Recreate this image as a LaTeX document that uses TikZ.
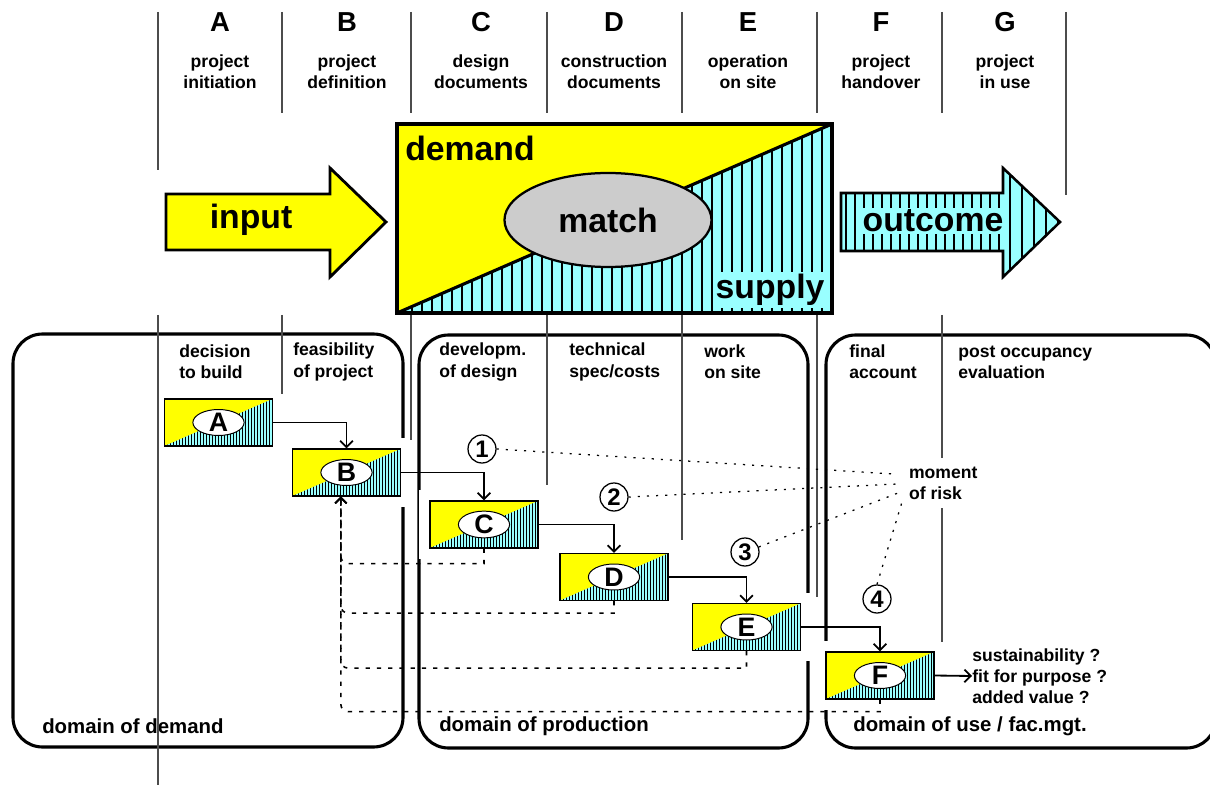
\documentclass[tikz,border=0pt]{standalone}
\usepackage{fontspec}
\setmainfont{Liberation Sans}
\usetikzlibrary{shapes.geometric,arrows.meta}

\definecolor{ylw}{RGB}{255,255,0}
\definecolor{cyn}{RGB}{153,255,255}
\definecolor{gry}{RGB}{204,204,204}

\tikzset{
  col/.style={line width=0.8pt, black!70},
  realm/.style={line width=2.2pt, rounded corners=21pt},
  stage/.style={draw, line width=0.8pt, minimum width=2.7cm, minimum height=1.175cm, inner sep=0pt,
    preaction={draw=white, line width=15pt},
    path picture={
      \fill[ylw] (path picture bounding box.south west) rectangle (path picture bounding box.north east);
      \begin{scope}
        \clip (path picture bounding box.south west) -- (path picture bounding box.north east)
          -- (path picture bounding box.south east) -- cycle;
        \fill[cyn] (path picture bounding box.south west) rectangle (path picture bounding box.north east);
        \foreach \i in {1,...,35}
          \draw[line width=0.6pt] ([xshift=\i*0.075cm]path picture bounding box.south west) -- ++(0,-60);
      \end{scope}
    }},
  tag/.style={ellipse, draw, fill=white, line width=0.7pt, minimum width=1.28cm, minimum height=0.55cm,
    inner sep=0pt, font=\fontsize{19}{19}\selectfont\bfseries},
  hd/.style={font=\fontsize{19.5}{20}\selectfont\bfseries},
  sub/.style={font=\fontsize{12.5}{15}\selectfont\bfseries, align=center},
  lab/.style={font=\fontsize{12.5}{15}\selectfont\bfseries, align=left, anchor=west, inner sep=0pt},
  big/.style={font=\fontsize{24}{24}\selectfont\bfseries, inner sep=0pt},
  dom/.style={font=\fontsize{14.5}{15}\selectfont\bfseries, anchor=west, inner sep=0pt},
  num/.style={circle, draw, line width=0.9pt, minimum size=19.9pt, inner sep=0pt,
    font=\fontsize{17}{17}\selectfont\bfseries},
  flow/.style={line width=1.3pt, -{Straight Barb[length=4.5pt,width=9pt]}},
  back/.style={line width=1.1pt, dash pattern=on 3pt off 5pt, -{Straight Barb[length=4pt,width=8pt]}},
  risk/.style={line width=0.9pt, dash pattern=on 1.5pt off 5pt}
}

\begin{document}
\begin{tikzpicture}[x=0.025cm, y=-0.025cm]
\useasboundingbox (0,0) rectangle (1210,787);

    % domains
    \draw[realm] (13,334) rectangle (403,747);
    \draw[realm] (419,335) rectangle (808,748);
    \draw[realm] (826,335) rectangle (1216,748);
    \node[dom] (dd) at (42,726) {domain of demand};
    \node[dom] (dp) at (439,726) {domain of production};
    \node[dom] (du) at (853,726) {domain of use / fac.mgt.};

    \node[lab] (l1) at (179,362) {decision\\to build};
    \node[lab] (l2) at (293,362) {feasibility\\of project};
    \node[lab] (l3) at (439,362) {developm.\\of design};
    \node[lab] (l4) at (569,362) {technical\\spec/costs};
    \node[lab] (l5) at (704,362) {work\\on site};
    \node[lab] (l6) at (849,362) {final\\account};
    \node[lab] (l7) at (958,362) {post occupancy\\evaluation};

    % phases
    \node[hd] (hA) at (220,22) {A};
    \node[hd] (hB) at (347,22) {B};
    \node[hd] (hC) at (481,22) {C};
    \node[hd] (hD) at (614,22) {D};
    \node[hd] (hE) at (748,22) {E};
    \node[hd] (hF) at (881,22) {F};
    \node[hd] (hG) at (1005,22) {G};
    \node[sub] (sA) at (220,72) {project\\initiation};
    \node[sub] (sB) at (347,72) {project\\definition};
    \node[sub] (sC) at (481,72) {design\\documents};
    \node[sub] (sD) at (614,72) {construction\\documents};
    \node[sub] (sE) at (748,72) {operation\\on site};
    \node[sub] (sF) at (881,72) {project\\handover};
    \node[sub] (sG) at (1005,72) {project\\in use};

    % input
    \draw[line width=2pt, fill=ylw] (166,194) -- (330,194) -- (330,168) -- (386,222)
      -- (330,277) -- (330,250) -- (166,250) -- cycle;
    \node[big] (in) at (251,220) {input};

    % demand / supply
    \fill[ylw] (397,124) rectangle (832,313);
    \begin{scope}
      \clip (397,313) -- (832,124) -- (832,313) -- cycle;
      \fill[cyn] (397,124) rectangle (832,313);
      \foreach \x in {402,412,...,832} \draw[line width=2.1pt] (\x,124) -- (\x,313);
    \end{scope}
    \draw[line width=2.2pt] (397,313) -- (832,124);
    \draw[line width=2.2pt] (397,124) rectangle (832,313);
    \node[big, anchor=west] (dem) at (405,148) {demand};
    \node[big, fill=cyn, inner xsep=2pt, inner ysep=1.5pt] (sup) at (770,290) {supply};
    \node[ellipse, draw, line width=1.6pt, fill=gry, minimum width=5.175cm, minimum height=2.35cm,
      big] (match) at (608,220) {match};

    % outcome
    \begin{scope}
      \clip (841,193) -- (1003,193) -- (1003,168) -- (1060,222) -- (1003,277) -- (1003,251)
        -- (841,251) -- cycle;
      \fill[cyn] (841,168) rectangle (1060,277);
      \foreach \x in {846,855,...,999} \draw[line width=2pt] (\x,168) -- (\x,277);
      \foreach \x in {1010,1022,...,1058} \draw[line width=2pt] (\x,168) -- (\x,277);
    \end{scope}
    \draw[line width=1.8pt] (841,193) -- (1003,193) -- (1003,168) -- (1060,222) -- (1003,277)
      -- (1003,251) -- (841,251) -- cycle;
    \node[big, fill=cyn, inner xsep=0.5pt, inner ysep=1pt] (out) at (933,221) {outcome};

    % stages
    \node[stage] (A) at (218.5,422.5) {};
    \node[stage] (B) at (346.5,472.5) {};
    \node[stage] (C) at (484,524.5) {};
    \node[stage] (D) at (614,577) {};
    \node[stage] (E) at (746.5,627) {};
    \node[stage] (F) at (880,675.5) {};
    \node[tag] (tA) at (A) {A};
    \node[tag] (tB) at (B) {B};
    \node[tag] (tC) at (C) {C};
    \node[tag] (tD) at (D) {D};
    \node[tag] (tE) at (E) {E};
    \node[tag] (tF) at (F) {F};

    % column lines
    \draw[col] (158,12) -- (158,170) (158,315) -- (158,785);
    \draw[col] (282,12) -- (282,113) (282,315) -- (282,394);
    \draw[col] (411,12) -- (411,113) (411,315) -- (411,440);
    \draw[col] (547,12) -- (547,113) (547,315) -- (547,485);
    \draw[col] (682,12) -- (682,113) (682,315) -- (682,540);
    \draw[col] (817,12) -- (817,113) (817,315) -- (817,597);
    \draw[col] (942,12) -- (942,113) (942,315) -- (942,642);
    \draw[col] (1066,12) -- (1066,195);

    % risk
    \node[lab, fill=white, inner xsep=2pt, inner ysep=6pt] (risk) at (906,483) {moment\\of risk};
    \node[num] (n1) at (482,449) {1};
    \node[num] (n2) at (614,497) {2};
    \node[num] (n3) at (745,552) {3};
    \node[num] (n4) at (877,599) {4};
    \coordinate (r1) at (893,474);
    \coordinate (r2) at (897,484);
    \coordinate (r3) at (898,493);
    \coordinate (r4) at (902,502);
    \draw[risk] (n1.east) -- (r1);
    \draw[risk] (n2.east) -- (r2);
    \draw[risk] (n3.20) -- (r3);
    \draw[risk] (n4.north) -- (r4);

    % flow
    \node[lab] (q) at (972,676) {sustainability ?\\fit for purpose ?\\added value ?};
    \draw[flow] (A.east) -| (B.north);
    \draw[flow] (B.east) -| (C.north);
    \draw[flow] (C.east) -| (D.north);
    \draw[flow] (D.east) -| (E.north);
    \draw[flow] (E.east) -| (F.north);
    \draw[flow] (F.east) -- (q.west);

    % feedback
    \draw[back] (C.south) -- ++(0,15) [rounded corners=5pt] -| ([xshift=-4pt]B.south);
    \draw[back] (D.south) -- ++(0,12) [rounded corners=5pt] -| ([xshift=-4pt]B.south);
    \draw[back] (E.south) -- ++(0,17) [rounded corners=5pt] -| ([xshift=-4pt]B.south);
    \draw[back] (F.south) -- ++(0,12) [rounded corners=5pt] -| ([xshift=-4pt]B.south);

\end{tikzpicture}
\end{document}
